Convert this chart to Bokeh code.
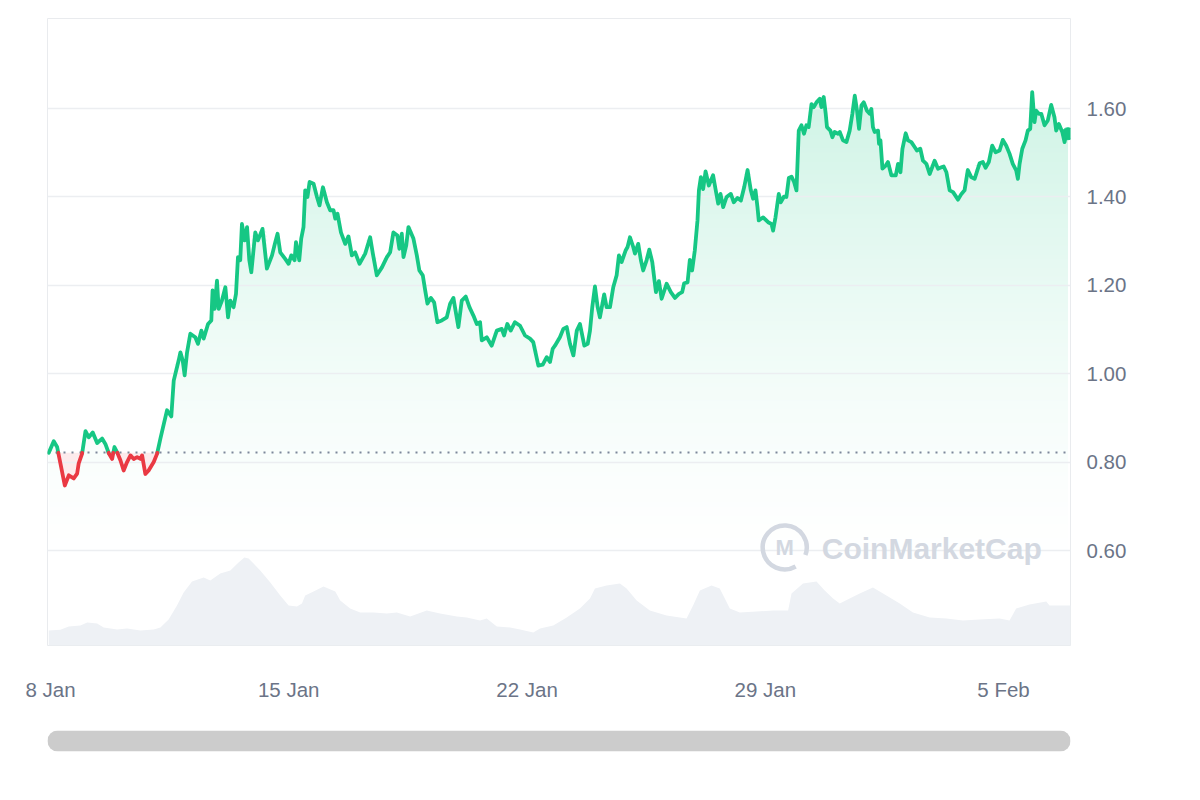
import numpy as np
from bokeh.plotting import figure
from bokeh.models import Range1d, FixedTicker, DatetimeTickFormatter, NumeralTickFormatter, BoxAnnotation
from bokeh.layouts import column
from bokeh.embed import file_html
from bokeh.resources import INLINE
from bokeh.core.properties import value

# ---------------- data ----------------
START = np.datetime64("2024-01-08T00:00").astype("datetime64[ms]").astype(np.int64)
HOUR_MS = 3600 * 1000

price_hours = [
    -1.2, 2.3, 4.7, 7.0, 10.1, 12.9, 16.4, 18.8, 19.9, 22.3, 24.7, 27.0, 29.8, 32.9, 36.4, 38.7,
    41.1, 43.5, 45.1, 47.0, 49.3, 51.6, 54.0, 56.4, 58.7, 61.1, 63.4, 64.6, 66.9, 69.2, 72.8, 75.2,
    77.5, 81.0, 82.2, 85.2, 86.9, 90.4, 91.6, 93.2, 94.6, 96.3, 98.6, 102.1, 104.0, 106.4, 108.0,
    111.1, 113.4, 114.3, 115.7, 117.4, 118.6, 120.9, 123.3, 125.2, 126.8, 129.1, 130.8, 132.2,
    133.8, 135.0, 136.9, 138.6, 140.2, 141.6, 144.4, 146.3, 149.5, 152.6, 156.2, 158.5, 160.1,
    162.0, 165.5, 167.9, 169.8, 172.1, 173.1, 175.4, 176.8, 178.4, 179.6, 181.2, 182.7, 185.5,
    187.9, 189.7, 192.1, 194.9, 197.2, 199.6, 200.8, 202.4, 204.8, 207.8, 210.1, 212.5, 214.8,
    217.9, 221.9, 225.4, 227.3, 230.1, 233.7, 237.2, 239.5, 241.8, 244.6, 246.0, 247.7, 248.9,
    250.8, 252.4, 255.9, 258.3, 260.1, 262.5, 264.2, 265.8, 268.2, 270.5, 272.8, 275.9, 279.4,
    281.8, 284.1, 286.0, 287.6, 290.0, 292.8, 295.4, 298.2, 300.6, 302.9, 304.1, 307.6, 311.1,
    314.7, 318.2, 319.8, 322.1, 324.5, 327.5, 331.1, 334.6, 338.1, 340.4, 344.0, 347.1, 349.9,
    352.2, 354.1, 355.7, 359.2, 361.6, 364.0, 366.3, 368.7, 371.1, 373.3, 376.4, 378.8, 380.4,
    382.0, 383.9, 385.8, 387.4, 390.4, 392.1, 394.5, 396.8, 399.2, 400.8, 402.7, 405.5, 406.9,
    408.6, 410.9, 412.1, 414.4, 416.3, 417.9, 420.3, 422.2, 424.3, 426.9, 429.0, 430.9, 434.4,
    437.4, 440.3, 443.1, 445.4, 446.8, 449.2, 450.8, 452.4, 454.3, 456.2, 457.2, 458.6, 460.2,
    461.9, 464.2, 467.2, 468.9, 470.8, 472.4, 474.3, 476.7, 479.7, 481.8, 484.4, 486.8, 489.1,
    491.5, 493.8, 495.4, 497.1, 498.5, 499.4, 502.5, 506.0, 508.4, 509.5, 511.2, 513.5, 514.9,
    517.2, 518.9, 520.6, 522.5, 524.3, 526.0, 527.6, 529.5, 531.3, 533.0, 534.6, 536.6, 538.2,
    540.1, 542.4, 543.6, 545.2, 546.6, 547.5, 549.9, 551.3, 552.9, 555.3, 556.5, 558.8, 561.2,
    563.5, 565.4, 567.1, 568.7, 570.1, 571.8, 573.4, 575.7, 577.6, 578.8, 579.9, 581.1, 583.5,
    584.2, 585.2, 586.6, 588.9, 590.5, 592.9, 596.0, 597.6, 599.3, 600.7, 603.0, 604.6, 607.0,
    609.3, 610.9, 613.3, 615.2, 617.6, 619.9, 623.4, 625.8, 628.2, 629.8, 631.7, 634.0, 636.4,
    639.9, 642.3, 644.5, 646.8, 649.2, 651.6, 655.1, 657.4, 659.3, 661.6, 664.0, 666.4, 669.2,
    671.5, 673.9, 676.2, 678.5, 680.9, 682.1, 683.3, 685.2, 687.5, 689.1, 690.8, 692.2, 693.8,
    695.0, 696.9, 698.6, 700.9, 703.2, 705.6, 707.9, 709.1, 711.0, 713.4, 715.0, 716.6, 717.4,
]
price_usd = [
    0.822, 0.848, 0.835, 0.798, 0.748, 0.771, 0.764, 0.775, 0.798, 0.820, 0.871, 0.857, 0.868, 0.844, 0.854, 0.842,
    0.821, 0.808, 0.835, 0.823, 0.805, 0.782, 0.801, 0.816, 0.808, 0.812, 0.808, 0.816, 0.774, 0.782, 0.801, 0.820,
    0.854, 0.902, 0.918, 0.904, 0.985, 1.031, 1.049, 1.031, 0.997, 1.049, 1.091, 1.083, 1.068, 1.098, 1.080,
    1.113, 1.121, 1.189, 1.147, 1.211, 1.147, 1.166, 1.196, 1.128, 1.166, 1.151, 1.181, 1.264,
    1.257, 1.339, 1.302, 1.332, 1.257, 1.230, 1.320, 1.302, 1.328, 1.238, 1.268, 1.298, 1.317,
    1.275, 1.260, 1.249, 1.268, 1.257, 1.298, 1.257, 1.306, 1.332, 1.415, 1.400, 1.434, 1.430,
    1.400, 1.381, 1.422, 1.388, 1.370, 1.370, 1.351, 1.362, 1.320, 1.294, 1.311, 1.268, 1.275,
    1.249, 1.272, 1.309, 1.272, 1.223, 1.241, 1.264, 1.275, 1.320, 1.313, 1.283, 1.317, 1.264,
    1.290, 1.332, 1.306, 1.268, 1.234, 1.223, 1.189, 1.159, 1.172, 1.162, 1.117, 1.121, 1.128,
    1.159, 1.172, 1.136, 1.106, 1.166, 1.175, 1.151, 1.132, 1.113, 1.117, 1.076, 1.083, 1.064,
    1.098, 1.102, 1.087, 1.113, 1.098, 1.117, 1.109, 1.087, 1.080, 1.072, 1.019, 1.021, 1.038,
    1.027, 1.057, 1.064, 1.083, 1.102, 1.106, 1.068, 1.042, 1.098, 1.113, 1.064, 1.068, 1.098,
    1.151, 1.198, 1.151, 1.128, 1.180, 1.151, 1.151, 1.196, 1.223, 1.268, 1.253, 1.279, 1.287,
    1.309, 1.287, 1.272, 1.294, 1.257, 1.234, 1.257, 1.281, 1.253, 1.185, 1.210, 1.170, 1.204,
    1.185, 1.172, 1.181, 1.185, 1.205, 1.207, 1.258, 1.234, 1.279, 1.347, 1.415, 1.445, 1.418,
    1.458, 1.426, 1.449, 1.418, 1.385, 1.407, 1.377, 1.400, 1.407, 1.388, 1.398, 1.392, 1.422,
    1.461, 1.415, 1.396, 1.415, 1.377, 1.347, 1.354, 1.343, 1.339, 1.324, 1.354, 1.407, 1.388,
    1.401, 1.400, 1.443, 1.446, 1.434, 1.415, 1.550, 1.562, 1.543, 1.562, 1.558, 1.610, 1.603,
    1.614, 1.622, 1.603, 1.626, 1.588, 1.558, 1.550, 1.535, 1.547, 1.543, 1.547, 1.528, 1.524,
    1.550, 1.588, 1.629, 1.595, 1.554, 1.607, 1.614, 1.595, 1.588, 1.599, 1.558, 1.547, 1.550,
    1.520, 1.528, 1.464, 1.471, 1.479, 1.449, 1.449, 1.475, 1.456, 1.509, 1.544, 1.528, 1.524,
    1.513, 1.505, 1.509, 1.482, 1.475, 1.452, 1.482, 1.464, 1.467, 1.469, 1.456, 1.415, 1.411,
    1.394, 1.407, 1.415, 1.461, 1.445, 1.441, 1.476, 1.479, 1.466, 1.479, 1.516, 1.501, 1.505,
    1.529, 1.516, 1.498, 1.475, 1.460, 1.441, 1.475, 1.509, 1.528, 1.550, 1.554, 1.637, 1.569,
    1.595, 1.588, 1.588, 1.562, 1.573, 1.608, 1.580, 1.550, 1.565, 1.547, 1.524, 1.547, 1.543,
]

volume_hours = [
    -1.2, 7.0, 12.9, 21.1, 25.9, 32.9, 37.5, 47.0, 54.0, 63.4, 72.8, 77.5, 83.3, 89.2, 93.9, 99.8,
    108.0, 112.7, 119.7, 126.8, 132.6, 136.7, 139.7, 147.9, 155.0, 162.0, 167.9, 173.8, 177.3,
    179.6, 185.5, 192.5, 200.8, 204.3, 211.3, 218.4, 227.7, 237.2, 244.2, 253.6, 265.3, 274.7,
    286.5, 293.5, 302.9, 307.6, 314.7, 324.0, 331.1, 340.4, 345.2, 354.5, 364.0, 373.3, 380.4,
    383.9, 392.1, 401.5, 406.2, 413.3, 422.6, 434.4, 448.5, 453.1, 457.9, 466.1, 471.9, 479.0,
    486.0, 497.8, 509.5, 520.1, 522.5, 530.6, 540.1, 545.9, 551.8, 556.5, 563.5, 570.6, 579.9,
    589.4, 598.8, 608.1, 619.9, 631.7, 643.3, 655.1, 669.2, 676.2, 680.9, 690.3, 702.1, 704.4, 719.2,
]
volume_musd = [
    6.0, 6.3, 7.6, 8.0, 9.2, 8.8, 7.2, 6.4, 6.8, 6.0, 6.4, 7.2, 10.4, 16.0, 21.2, 25.6,
    27.2, 26.0, 28.8, 30.0, 33.2, 35.2, 34.8, 30.0, 25.2, 20.0, 16.0, 15.6, 16.8,
    20.0, 21.6, 23.6, 21.6, 18.0, 14.8, 13.2, 13.2, 12.8, 13.2, 11.6, 14.0, 12.8,
    11.6, 11.2, 10.0, 10.8, 7.6, 7.2, 6.4, 5.2, 6.8, 8.0, 11.2, 14.8, 18.8,
    22.8, 24.0, 24.8, 22.8, 18.0, 14.0, 12.0, 10.8, 16.0, 22.0, 24.0, 22.8, 14.8,
    13.2, 13.6, 14.0, 14.0, 20.8, 24.8, 25.6, 22.0, 18.8, 16.8, 18.8, 20.8, 23.2,
    20.0, 16.8, 13.2, 11.2, 10.8, 10.0, 10.4, 10.8, 10.0, 14.8, 16.4, 17.6, 16.0, 16.0,
]

baseline_price = 0.822
y_ticks = [0.60, 0.80, 1.00, 1.20, 1.40, 1.60]
x_tick_days = [0, 7, 14, 21, 28]          # 8 Jan, 15 Jan, 22 Jan, 29 Jan, 5 Feb
x_span_hours = (-2.1, 719.2)
y_span = (0.3864, 1.8034)
volume_span = (0.0, 250.8)
watermark_logo = (517.7, 0.608)
watermark_text = (543.8, 0.606)

# ---------------- styling ----------------
GREEN = "#16c784"
GREEN_RGB = np.array([22, 199, 132], float)
RED = "#ea3943"
GRID = "#eceef1"
LABEL = "#6b7487"
WM = "#d3d8e1"
FONT = "Liberation Sans"

assert len(price_hours) == len(price_usd)
assert len(volume_hours) == len(volume_musd)


def to_ms(hours):
    return START + np.asarray(hours, dtype=float) * HOUR_MS


# insert baseline crossings so that the colour switch is exact
t_raw = np.asarray(price_hours, float)
y_raw = np.asarray(price_usd, float)
ts, ys = [t_raw[0]], [y_raw[0]]
for i in range(1, len(t_raw)):
    y0, y1 = y_raw[i - 1], y_raw[i]
    if (y0 - baseline_price) * (y1 - baseline_price) < 0:
        f = (baseline_price - y0) / (y1 - y0)
        ts.append(t_raw[i - 1] + f * (t_raw[i] - t_raw[i - 1]))
        ys.append(baseline_price)
    ts.append(t_raw[i])
    ys.append(y_raw[i])
ts = np.array(ts)
ys = np.array(ys)
tx = to_ms(ts)

p = figure(
    width=1200, height=715,
    x_axis_type="datetime", y_axis_location="right",
    x_range=Range1d(*to_ms(x_span_hours)), y_range=Range1d(*y_span),
    toolbar_location=None, output_backend="svg",
    min_border_left=47, min_border_right=129, min_border_top=18, min_border_bottom=70,
    background_fill_color="white", border_fill_color="white",
    outline_line_color="#e9ebee",
)
p.extra_y_ranges = {"vol": Range1d(*volume_span)}
p.xgrid.visible = False
p.ygrid.visible = False


# green gradient under the price line: nested opaque layers
def opacity(v):
    return 0.21 * np.clip((v - 0.55) / (1.64 - 0.55), 0, 1) ** 1.5


def blend(A):
    rgb = 255 * (1 - A) + GREEN_RGB * A
    return "#%02x%02x%02x" % tuple(int(round(c)) for c in rgb)


for a in np.arange(0.50, 1.645, 0.01):
    p.varea(x=tx, y1=a, y2=np.maximum(ys, a), fill_color=blend(opacity(a + 0.005)),
            fill_alpha=1.0)

# volume
p.varea(x=to_ms(volume_hours), y1=0, y2=volume_musd, y_range_name="vol",
        fill_color="#eef1f5", fill_alpha=1.0)

# red fill between line and baseline
p.varea(x=tx, y1=np.minimum(ys, baseline_price), y2=baseline_price,
        fill_color=RED, fill_alpha=0.10)

# grid lines
p.hspan(y=y_ticks, line_color=GRID, line_width=1.3)

# watermark
p.arc(x=[to_ms(watermark_logo[0])], y=[watermark_logo[1]], radius=22, radius_units="screen",
      start_angle=-0.35, end_angle=-1.05, line_color=WM, line_width=4.5)
p.text(x=[to_ms(watermark_logo[0])], y=[watermark_logo[1]], text=["M"],
       text_font=value(FONT), text_font_style="bold", text_font_size="22px",
       text_color=WM, text_align="center", text_baseline="middle")
p.text(x=[to_ms(watermark_text[0])], y=[watermark_text[1]], text=["CoinMarketCap"],
       text_font=value(FONT), text_font_style="bold", text_font_size="30px",
       text_color=WM, text_align="left", text_baseline="middle")

# dotted baseline
p.hspan(y=[baseline_price], line_color="#7d879a", line_width=1.8, line_dash="2 6")

# price line green/red
green_y = np.where(ys >= baseline_price - 1e-9, ys, np.nan)
red_y = np.where(ys <= baseline_price + 1e-9, ys, np.nan)
p.line(tx, green_y, line_color=GREEN, line_width=3.8, line_join="round", line_cap="round")
p.line(tx, red_y, line_color=RED, line_width=3.8, line_join="round", line_cap="round")
p.scatter(x=[tx[-1]], y=[ys[-1]], size=12, fill_color=GREEN, line_color=GREEN)

# axes
p.yaxis.ticker = FixedTicker(ticks=y_ticks)
p.yaxis.formatter = NumeralTickFormatter(format="0.00")
p.xaxis.ticker = FixedTicker(ticks=[int(v) for v in START + np.array(x_tick_days) * 24 * HOUR_MS])
fmt = "%-d %b"
p.xaxis.formatter = DatetimeTickFormatter(
    microseconds=fmt, milliseconds=fmt, seconds=fmt, minsec=fmt, minutes=fmt,
    hourmin=fmt, hours=fmt, days=fmt, months=fmt, years=fmt)
for ax in (p.xaxis[0], p.yaxis[0]):
    ax.axis_line_color = None
    ax.major_tick_line_color = None
    ax.minor_tick_line_color = None
    ax.major_label_text_font = FONT
    ax.major_label_text_font_size = "20.5px"
    ax.major_label_text_color = LABEL
p.yaxis.major_label_standoff = 10
p.xaxis.major_label_standoff = 26

# scrollbar
p2 = figure(width=1200, height=85, toolbar_location=None, output_backend="svg",
            x_range=Range1d(0, 1), y_range=Range1d(0, 1),
            x_axis_location=None, y_axis_location=None,
            min_border_left=47, min_border_right=130, min_border_top=15, min_border_bottom=49,
            outline_line_color=None, background_fill_color="white", border_fill_color="white")
p2.grid.visible = False
p2.add_layout(BoxAnnotation(left=0, right=1, bottom=0, top=1, fill_color="#cccccc",
                            fill_alpha=1.0, line_color=None, border_radius=10))

layout = column(p, p2, spacing=0)
open("out.html", "w").write(file_html(layout, INLINE))
